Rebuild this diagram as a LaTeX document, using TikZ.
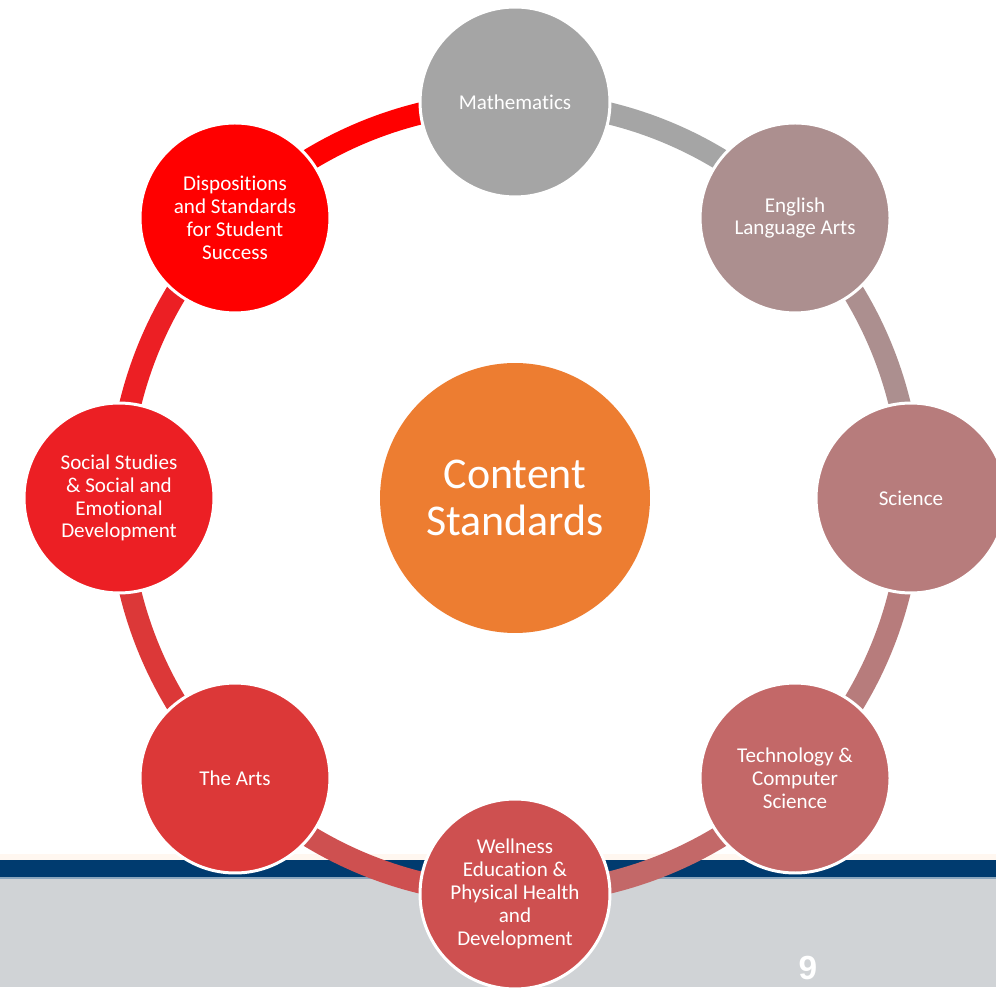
\documentclass[tikz,border=0pt]{standalone}
\usepackage{fontspec}
\setmainfont{Carlito}[Ligatures=NoCommon]
\newfontfamily\numfont{Liberation Sans}
\pgfdeclarelayer{band}
\pgfdeclarelayer{ring}
\pgfsetlayers{band,ring,main}

\tikzset{
  topic/.style={circle, draw=white, line width=1.7pt, inner sep=0pt,
    minimum size=3.8cm, text=white, align=center,
    font=\fontsize{12}{13}\selectfont},
  ringline/.style={line width=12.5pt}
}

\begin{document}
\begin{tikzpicture}[x=0.02cm, y=0.02cm]
\definecolor{cMath}{HTML}{A5A5A5}
\definecolor{cEla}{HTML}{AC8F8F}
\definecolor{cSci}{HTML}{B77C7C}
\definecolor{cTech}{HTML}{C36868}
\definecolor{cWell}{HTML}{CE5050}
\definecolor{cArts}{HTML}{DC3838}
\definecolor{cSoc}{HTML}{EC1F24}
\definecolor{cDisp}{HTML}{FF0000}
\definecolor{cCore}{HTML}{ED7D31}
\definecolor{navy}{HTML}{003B6F}
\definecolor{slate}{HTML}{D0D3D6}

  \useasboundingbox (0,0) rectangle (996,987);
  \def\R{396}
  \coordinate (O) at (515,489);

  % footer band
  \begin{pgfonlayer}{band}
    \fill[white] (0,0) rectangle (996,987);
    \fill[color=slate] (0,0) rectangle (996,110);
    \fill[color=navy] (0,110) rectangle (996,127);
    \fill[color=navy!45] (0,108.5) rectangle (996,110.5);
    \fill[color=orange!6] (0,127) rectangle (996,133);
  \end{pgfonlayer}
  \node[font=\numfont\bfseries\fontsize{19}{19}\selectfont, text=white] (page) at (808,19) {9};

  % centre
  \node[circle, fill=cCore, minimum size=5.4cm, inner sep=0pt, text=white,
    align=center, font=\fontsize{25}{27}\selectfont] (core) at (O) {Content\\Standards};

  % topics round the ring
  \foreach \nm/\ang/\col/\txt in {
      math/90/cMath/{Mathematics},
      ela/45/cEla/{English\\Language Arts},
      sci/0/cSci/{Science},
      tech/-45/cTech/{Technology \&\\Computer\\Science},
      well/-90/cWell/{Wellness\\Education \&\\Physical Health\\and\\Development},
      arts/-135/cArts/{The Arts},
      soc/180/cSoc/{Social Studies\\\& Social and\\Emotional\\Development},
      disp/135/cDisp/{Dispositions\\and Standards\\for Student\\Success}}
    {
    \node[topic, fill=\col] (\nm) at ([shift={(\ang:\R)}]O) {\txt};
    }

  % ring segments, each in the colour of the circle it leaves
  \begin{pgfonlayer}{ring}
    \foreach \a/\b/\ang/\col in {math/ela/90/cMath, ela/sci/45/cEla, sci/tech/0/cSci,
        tech/well/-45/cTech, well/arts/-90/cWell, arts/soc/-135/cArts,
        soc/disp/180/cSoc, disp/math/135/cDisp}
      {
      \draw[ringline, draw=\col] (\a.center) arc[start angle=\ang, end angle=\ang-45, radius=\R];
      }
  \end{pgfonlayer}
\end{tikzpicture}
\end{document}
